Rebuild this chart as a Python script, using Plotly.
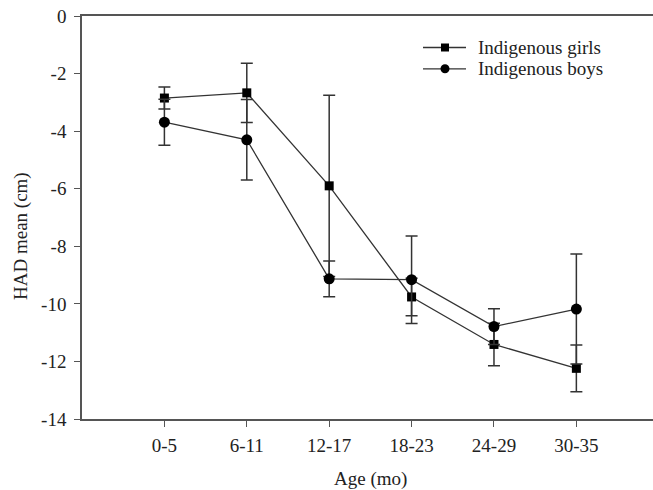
import plotly.graph_objects as go

categories = ["0-5", "6-11", "12-17", "18-23", "24-29", "30-35"]
girls_mean = [-2.85, -2.67, -5.90, -9.76, -11.41, -12.24]
girls_err = [0.38, 1.03, 3.15, 0.65, 0.74, 0.81]
boys_mean = [-3.69, -4.30, -9.13, -9.16, -10.79, -10.18]
boys_err = [0.80, 1.40, 0.62, 1.52, 0.62, 1.91]
y_ticks = [0, -2, -4, -6, -8, -10, -12, -14]
series_names = ["Indigenous girls", "Indigenous boys"]

xpos = list(range(len(categories)))
FONT = "Liberation Serif, Times New Roman, serif"
INK = "#222222"
LINE = "#333333"
FS = 19

# plot area in pixels (for placing the legend in paper coordinates)
L, R, T, B = 82, 653, 16, 419
def px(x):
    return (x - L) / (R - L)
def py(y):
    return (B - y) / (B - T)

fig = go.Figure()
fig.add_trace(go.Scatter(
    x=xpos, y=girls_mean, name=series_names[0], mode="lines+markers",
    line=dict(color=LINE, width=1.3),
    marker=dict(symbol="square", size=9, color="#000000"),
    error_y=dict(type="data", array=girls_err, visible=True, color=LINE, thickness=1.5, width=6),
))
fig.add_trace(go.Scatter(
    x=xpos, y=boys_mean, name=series_names[1], mode="lines+markers",
    line=dict(color=LINE, width=1.3),
    marker=dict(symbol="circle", size=11, color="#000000"),
    error_y=dict(type="data", array=boys_err, visible=True, color=LINE, thickness=1.5, width=6),
))

# legend drawn as key shapes + text
shapes = []
annotations = []
rows = [47.5, 68.8]
for i, (name, yy) in enumerate(zip(series_names, rows)):
    shapes.append(dict(type="line", xref="paper", yref="paper",
                       x0=px(423), x1=px(466), y0=py(yy), y1=py(yy),
                       line=dict(color=LINE, width=1.3)))
    if i == 0:
        shapes.append(dict(type="rect", xref="paper", yref="paper",
                           x0=px(441), x1=px(449), y0=py(yy + 4), y1=py(yy - 4),
                           fillcolor="#000000", line=dict(width=0)))
    else:
        shapes.append(dict(type="circle", xref="paper", yref="paper",
                           x0=px(440.5), x1=px(449.5), y0=py(yy + 4.5), y1=py(yy - 4.5),
                           fillcolor="#000000", line=dict(width=0)))
    annotations.append(dict(text=name, xref="paper", yref="paper", x=px(476), y=py(yy),
                            showarrow=False, xanchor="left", yanchor="middle",
                            font=dict(family=FONT, size=FS, color=INK)))

annotations += [
    dict(text="HAD mean (cm)", xref="paper", yref="paper", x=px(21), y=py(236),
         textangle=-90, showarrow=False, xanchor="center", yanchor="middle",
         font=dict(family=FONT, size=FS, color=INK)),
    dict(text="Age (mo)", xref="paper", yref="paper", x=px(370), y=py(479),
         showarrow=False, xanchor="center", yanchor="middle",
         font=dict(family=FONT, size=FS, color=INK)),
]

fig.update_layout(
    width=653, height=490,
    margin=dict(l=L, r=653 - R, t=T, b=490 - B),
    paper_bgcolor="white", plot_bgcolor="white",
    font=dict(family=FONT, size=FS, color=INK),
    showlegend=False,
    xaxis=dict(range=[-1, 5.93], tickmode="array", tickvals=xpos, ticktext=categories,
               showgrid=False, zeroline=False, showline=True, linecolor="#555555", linewidth=1.5,
               mirror=True, ticks="outside", ticklen=6, tickwidth=1.2, tickcolor="#555555",
               ticklabelstandoff=2,
               tickfont=dict(family=FONT, size=FS, color=INK)),
    yaxis=dict(range=[-14, 0], tickmode="array", tickvals=y_ticks,
               ticktext=[str(v) for v in y_ticks],
               showgrid=False, zeroline=False, showline=True, linecolor="#555555", linewidth=1.5,
               ticks="outside", ticklen=6, tickwidth=1.2, tickcolor="#555555",
               ticklabelstandoff=4,
               tickfont=dict(family=FONT, size=FS, color=INK)),
    shapes=shapes,
    annotations=annotations,
)

fig.write_html("out.html")
